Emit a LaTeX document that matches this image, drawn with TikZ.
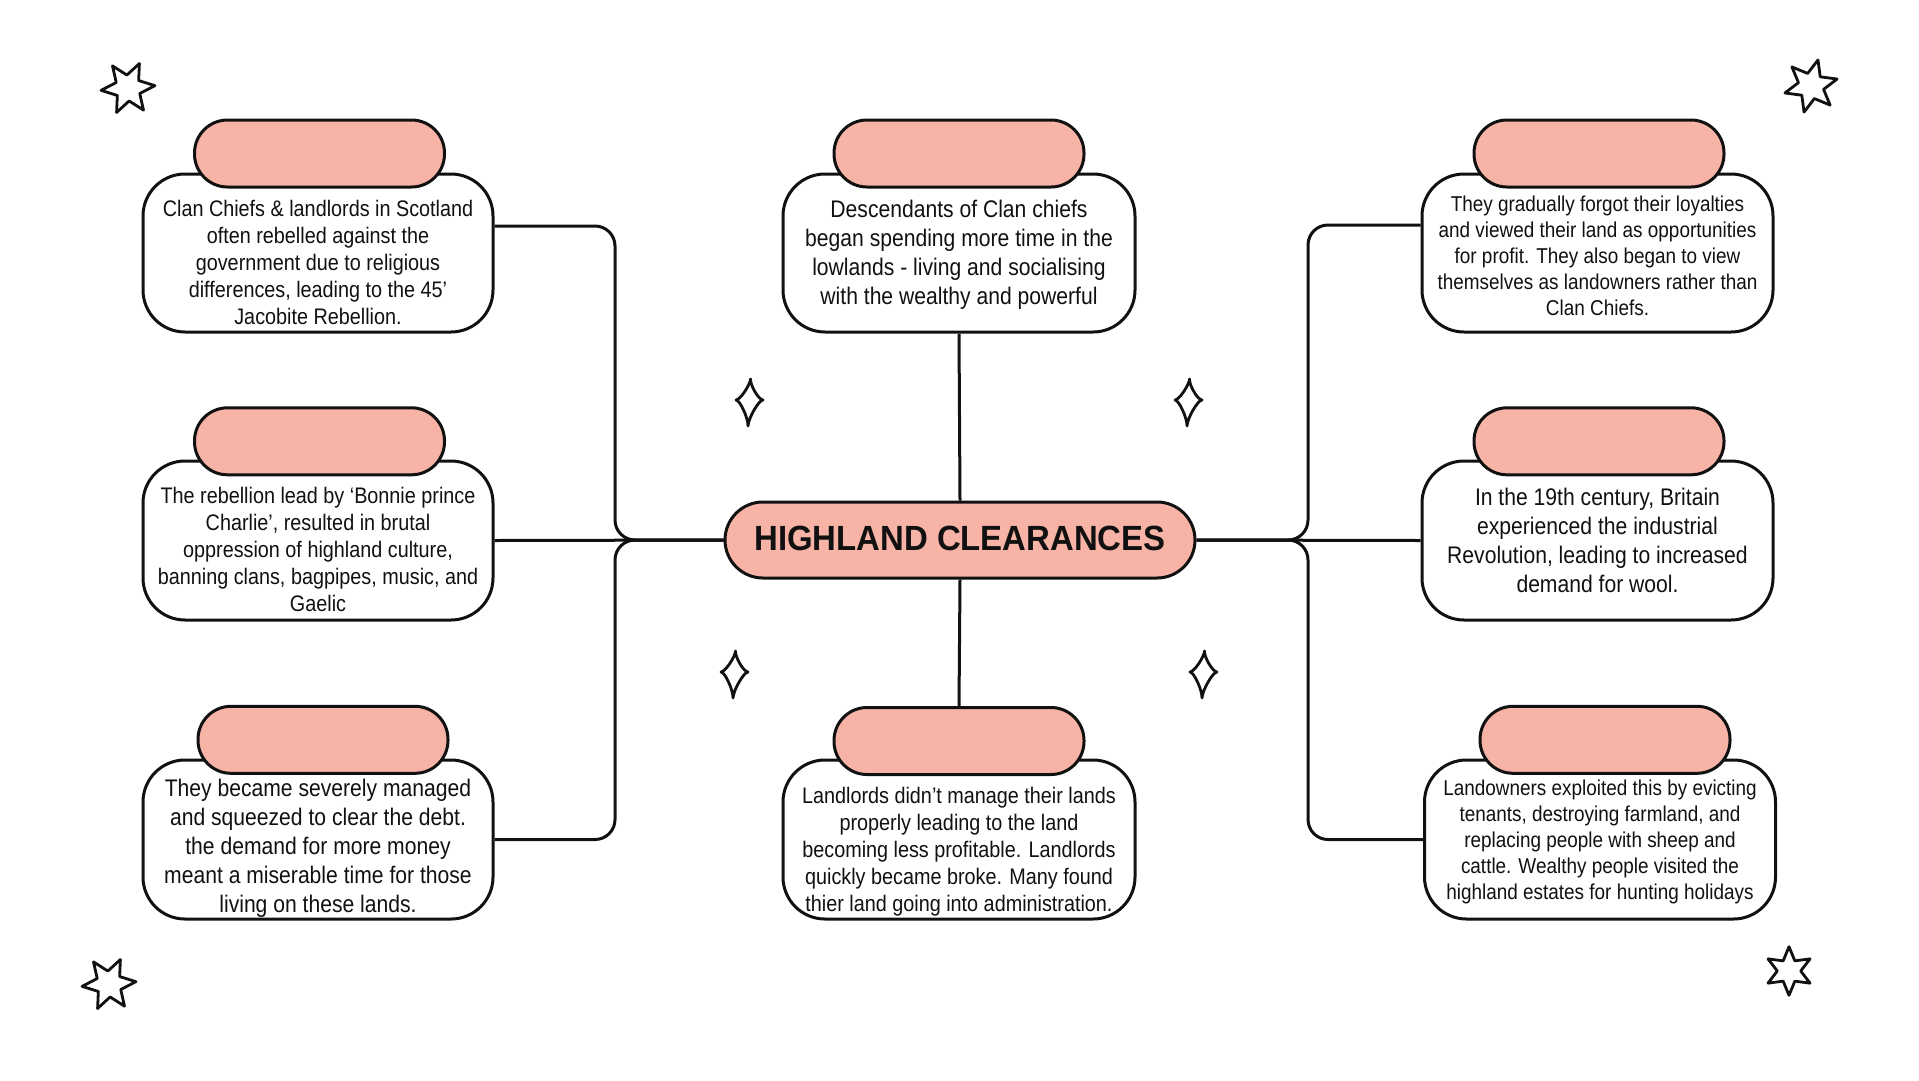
\documentclass[tikz,border=0pt]{standalone}
\usepackage{fontspec}
\setmainfont[FakeStretch=0.88]{Liberation Sans}
\newfontfamily\titlefont[FakeStretch=0.94]{Liberation Sans}
\definecolor{pinkfill}{HTML}{F7B3A6}
\definecolor{ink}{HTML}{111111}
\begin{document}
\begin{tikzpicture}[x=1pt,y=-1pt,
  wbox/.style={draw=ink,line width=3pt,fill=white,rounded corners=42pt,inner sep=0pt},
  pill/.style={draw=ink,line width=3pt,fill=pinkfill,rounded corners=33pt,minimum width=250pt,minimum height=67pt,inner sep=0pt},
  conn/.style={draw=ink,line width=3pt,rounded corners=20pt},
  txt/.style={align=center,text=ink,inner sep=0pt},
  deco/.style={draw=ink,line width=2.8pt,line join=round,fill=white},
  sixstar/.pic={\draw[deco] (0:27) -- (30:13) -- (60:27) -- (90:13) -- (120:27) -- (150:13) -- (180:27) -- (210:13) -- (240:27) -- (270:13) -- (300:27) -- (330:13) -- cycle;},
  sparkle/.pic={\draw[deco] (1.5,-21) .. controls (1.05,-14.7) and (9.8,0) .. (14,0)
      .. controls (9.8,0) and (-0.7,18.2) .. (-1,26)
      .. controls (-0.7,18.2) and (-9.1,0) .. (-13,0)
      .. controls (-9.1,0) and (1.05,-14.7) .. (1.5,-21) -- cycle;}
]
\useasboundingbox (0,0) rectangle (1919,1080);
\fill[white] (0,0) rectangle (1919,1080);

% white boxes
\node[wbox,minimum width=350pt,minimum height=158pt] (tl) at (318,253) {};
\node[wbox,minimum width=350pt,minimum height=159pt] (ml) at (318,540.5) {};
\node[wbox,minimum width=350pt,minimum height=159pt] (bl) at (318,839.5) {};
\node[wbox,minimum width=352pt,minimum height=158pt] (tc) at (959,253) {};
\node[wbox,minimum width=352pt,minimum height=159pt] (bc) at (959,839.5) {};
\node[wbox,minimum width=351pt,minimum height=158pt] (tr) at (1597.5,253) {};
\node[wbox,minimum width=351pt,minimum height=159pt] (mr) at (1597.5,540.5) {};
\node[wbox,minimum width=351pt,minimum height=159pt] (br) at (1600,839.5) {};

% pills
\node[pill] (tlp) at (319.5,153.5) {};
\node[pill] (mlp) at (319.5,441.3) {};
\node[pill] (blp) at (323,739.8) {};
\node[pill] (tcp) at (959,153.5) {};
\node[pill] (bcp) at (959,741) {};
\node[pill] (trp) at (1599,153.5) {};
\node[pill] (mrp) at (1599,441.3) {};
\node[pill] (brp) at (1605,739.8) {};

% title
\node[draw=ink,line width=3pt,fill=pinkfill,rounded corners=38pt,minimum width=470pt,minimum height=76pt,inner sep=0pt,text height=25.5pt,text depth=5pt,text=ink,font=\titlefont\bfseries\fontsize{35}{40}\selectfont] (title) at (960,540) {HIGHLAND CLEARANCES};

% connectors
\draw[conn] ([yshift=27pt]tl.east) -- (615,226) -- (615,540) -- (title.west);
\draw[conn] (ml.east) -- (title.west);
\draw[conn] (bl.east) -- (615,839.5) -- (615,540) -- (title.west);
\draw[conn] ([yshift=28pt]tr.west) -- (1308,225) -- (1308,540) -- (title.east);
\draw[conn] (mr.west) -- (title.east);
\draw[conn] (br.west) -- (1308,839.5) -- (1308,540) -- (title.east);
\draw[conn] (tc.south) -- (title.north);
\draw[conn] (title.south) -- (bcp.north);

% texts
\node[txt,font=\fontsize{22.5}{27}\selectfont] (tlt) at (318,262) {Clan Chiefs \& landlords in Scotland\\often rebelled against the\\government due to religious\\differences, leading to the 45’\\Jacobite Rebellion.};
\node[txt,font=\fontsize{22.5}{27}\selectfont] (mlt) at (318,549.5) {The rebellion lead by ‘Bonnie prince\\Charlie’, resulted in brutal\\oppression of highland culture,\\banning clans, bagpipes, music, and\\Gaelic};
\node[txt,font=\fontsize{24}{29}\selectfont] (blt) at (318,848.5) {They became severely managed\\and squeezed to clear the debt.\\the demand for more money\\meant a miserable time for those\\living on these lands.};
\node[txt,font=\fontsize{24}{29}\selectfont] (tct) at (959,254.5) {Descendants of Clan chiefs\\began spending more time in the\\lowlands - living and socialising\\with the wealthy and powerful};
\node[txt,font=\fontsize{22.5}{27}\selectfont] (bct) at (959,852) {Landlords didn’t manage their lands\\properly leading to the land\\becoming less profitable. Landlords\\quickly became broke. Many found\\thier land going into administration.};
\node[txt,font=\fontsize{21.5}{26}\selectfont] (trt) at (1597.5,255.5) {They gradually forgot their loyalties\\and viewed their land as opportunities\\for profit. They also began to view\\themselves as landowners rather than\\Clan Chiefs.};
\node[txt,font=\fontsize{24}{29}\selectfont] (mrt) at (1597.5,540.4) {In the 19th century, Britain\\experienced the industrial\\Revolution, leading to increased\\demand for wool.};
\node[txt,font=\fontsize{21.5}{26}\selectfont] (brt) at (1600,842.2) {Landowners exploited this by evicting\\tenants, destroying farmland, and\\replacing people with sheep and\\cattle. Wealthy people visited the\\highland estates for hunting holidays};

% decorations
\pic[rotate=5] at (128,88) {sixstar};
\pic[rotate=15] at (1811,86) {sixstar};
\pic[rotate=5] at (109,984) {sixstar};
\pic[rotate=30,scale=0.9] at (1789,971) {sixstar};
\pic at (749,400) {sparkle};
\pic at (1188,400) {sparkle};
\pic at (734,672) {sparkle};
\pic at (1203,672) {sparkle};
\end{tikzpicture}
\end{document}
